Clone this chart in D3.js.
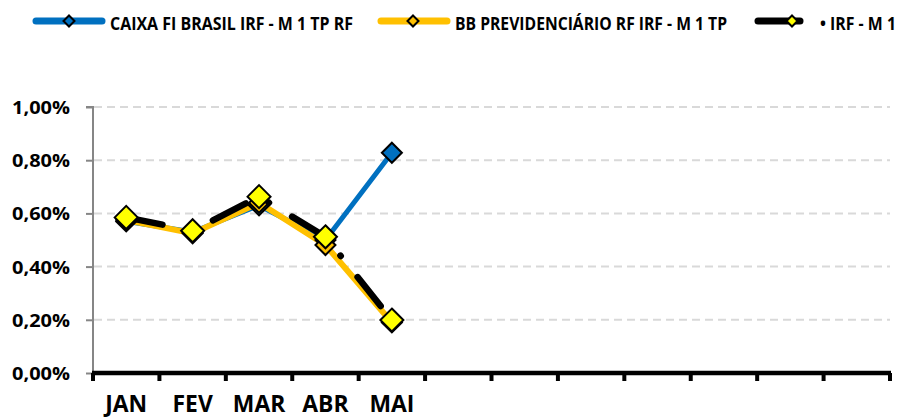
<!DOCTYPE html>
<html><head><meta charset="utf-8">
<script src="https://cdn.jsdelivr.net/npm/d3@7"></script>
<style>body{margin:0;background:#fff}svg{display:block}text{font-family:"Open Sans",sans-serif;font-weight:700}</style>
</head><body><div id="chart"></div>
<script>
const months = ["JAN","FEV","MAR","ABR","MAI","JUN","JUL","AGO","SET","OUT","NOV","DEZ"];
const monthLabels = ["JAN","FEV","MAR","ABR","MAI","","","","","","",""];
const caixa = [0.57, 0.53, 0.63, 0.50, 0.828];
const bb = [0.575, 0.525, 0.64, 0.481, 0.19];
const irf = [0.585, 0.535, 0.663, 0.512, 0.199];
const yTicks = [0, 0.2, 0.4, 0.6, 0.8, 1.0];
const seriesNames = ["CAIXA FI BRASIL IRF - M 1 TP RF","BB PREVIDENCIÁRIO RF IRF - M 1 TP","• IRF - M 1"];

const W = 904, H = 417;
const svg = d3.select("#chart").append("svg").attr("width", W).attr("height", H);
const x = d3.scaleBand().domain(months).range([93, 890]);
const y = d3.scaleLinear().domain([0, 1]).range([373, 107]);
const fmt = v => d3.format(".2f")(v).replace(".", ",") + "%";

// gridlines
svg.append("g").selectAll("line").data(yTicks.filter(v => v > 0)).join("line")
  .attr("x1", 94).attr("x2", 890).attr("y1", d => y(d)).attr("y2", d => y(d))
  .attr("stroke", "#d9d9d9").attr("stroke-width", 2).attr("stroke-dasharray", "8,5");

// y axis
const ya = svg.append("g").attr("transform", "translate(93,0)")
  .call(d3.axisLeft(y).tickValues(yTicks).tickFormat(fmt).tickSize(7).tickPadding(16));
ya.select(".domain").attr("stroke", "#868686").attr("stroke-width", 2).attr("d", `M-7,${y(1)}H0V${y(0)}`);
ya.selectAll(".tick line").attr("stroke", "#868686").attr("stroke-width", 2);
ya.selectAll(".tick text").attr("font-size", 18.5).attr("fill", "#000").attr("dy", null).attr("y", 6.5)
  .attr("x", -23).attr("font-family", '"Open Sans",sans-serif').attr("font-weight", 700)
  .attr("textLength", 58).attr("lengthAdjust", "spacingAndGlyphs");

// x axis
const xa = svg.append("g").attr("transform", `translate(0,${y(0)})`)
  .call(d3.axisBottom(x).tickSize(0).tickFormat((d, i) => monthLabels[i]));
xa.select(".domain").attr("stroke", "#000").attr("stroke-width", 4.5).attr("d", "M92,0H891");
xa.selectAll(".tick text").attr("font-size", 22.5).attr("fill", "#000").attr("dy", null).attr("y", 38.5)
  .attr("font-family", '"Liberation Sans",Arial,sans-serif').attr("font-weight", 700);
const jan = xa.selectAll(".tick text").filter(function(){ return this.textContent === "JAN"; }).node();
const kx = 42 / jan.getComputedTextLength();
xa.selectAll(".tick text").each(function(){
  const w = this.getComputedTextLength();
  if (w > 0) d3.select(this).attr("textLength", w * kx).attr("lengthAdjust", "spacingAndGlyphs");
});
svg.append("g").selectAll("line").data(d3.range(13)).join("line")
  .attr("x1", i => 93 + i * x.step()).attr("x2", i => 93 + i * x.step())
  .attr("y1", y(0)).attr("y2", y(0) + 8).attr("stroke", "#000").attr("stroke-width", 4);

const cx = i => x(months[i]) + x.bandwidth() / 2;
const line = d3.line().x((d, i) => cx(i)).y(d => y(d));
const diamond = (s) => `M0,${-s}L${s},0L0,${s}L${-s},0Z`;

function drawSeries(data, color, width, dash) {
  const p = svg.append("path").datum(data).attr("d", line).attr("fill", "none")
    .attr("stroke", color).attr("stroke-width", width).attr("stroke-linejoin", "round");
  if (dash) p.attr("stroke-dasharray", dash).attr("stroke-linecap", "round");
}
function drawMarkers(data, mfill, ms) {
  svg.append("g").selectAll("path").data(data).join("path")
    .attr("transform", (d, i) => `translate(${cx(i)},${y(d)})`)
    .attr("d", diamond(ms)).attr("fill", mfill).attr("stroke", "#000").attr("stroke-width", 2);
}
drawSeries(caixa, "#0070c0", 5);
drawSeries(bb, "#ffc000", 6);
drawMarkers(caixa, "#0070c0", 10);
drawMarkers(bb, "#ffc000", 10);
drawSeries(irf, "#000", 6.5, "37,26,0.5,27");
drawMarkers(irf, "#ffff00", 11.5);

// legend
const legend = [
  {name: seriesNames[0], color: "#0070c0", fill: "#0070c0", x0: 36, x1: 102, d: 69, tx: 110, w: 243, fs: 18.5},
  {name: seriesNames[1], color: "#ffc000", fill: "#ffc000", x0: 381, x1: 447, d: 413, tx: 455, w: 272, fs: 18.5},
  {name: seriesNames[2], color: "#000", fill: "#ffff00", x0: 758, x1: 800, d: 792, tx: 820, w: 76, fs: 17}
];
const lg = svg.append("g");
legend.forEach(l => {
  lg.append("line").attr("x1", l.x0).attr("x2", l.x1).attr("y1", 21).attr("y2", 21)
    .attr("stroke", l.color).attr("stroke-width", 7).attr("stroke-linecap", "round");
  lg.append("path").attr("transform", `translate(${l.d},21)`).attr("d", diamond(5.5))
    .attr("fill", l.fill).attr("stroke", "#000").attr("stroke-width", 2);
  lg.append("text").attr("x", l.tx).attr("y", 29.5).attr("font-size", l.fs)
    .attr("textLength", l.w).attr("lengthAdjust", "spacingAndGlyphs").text(l.name);
});
</script></body></html>
